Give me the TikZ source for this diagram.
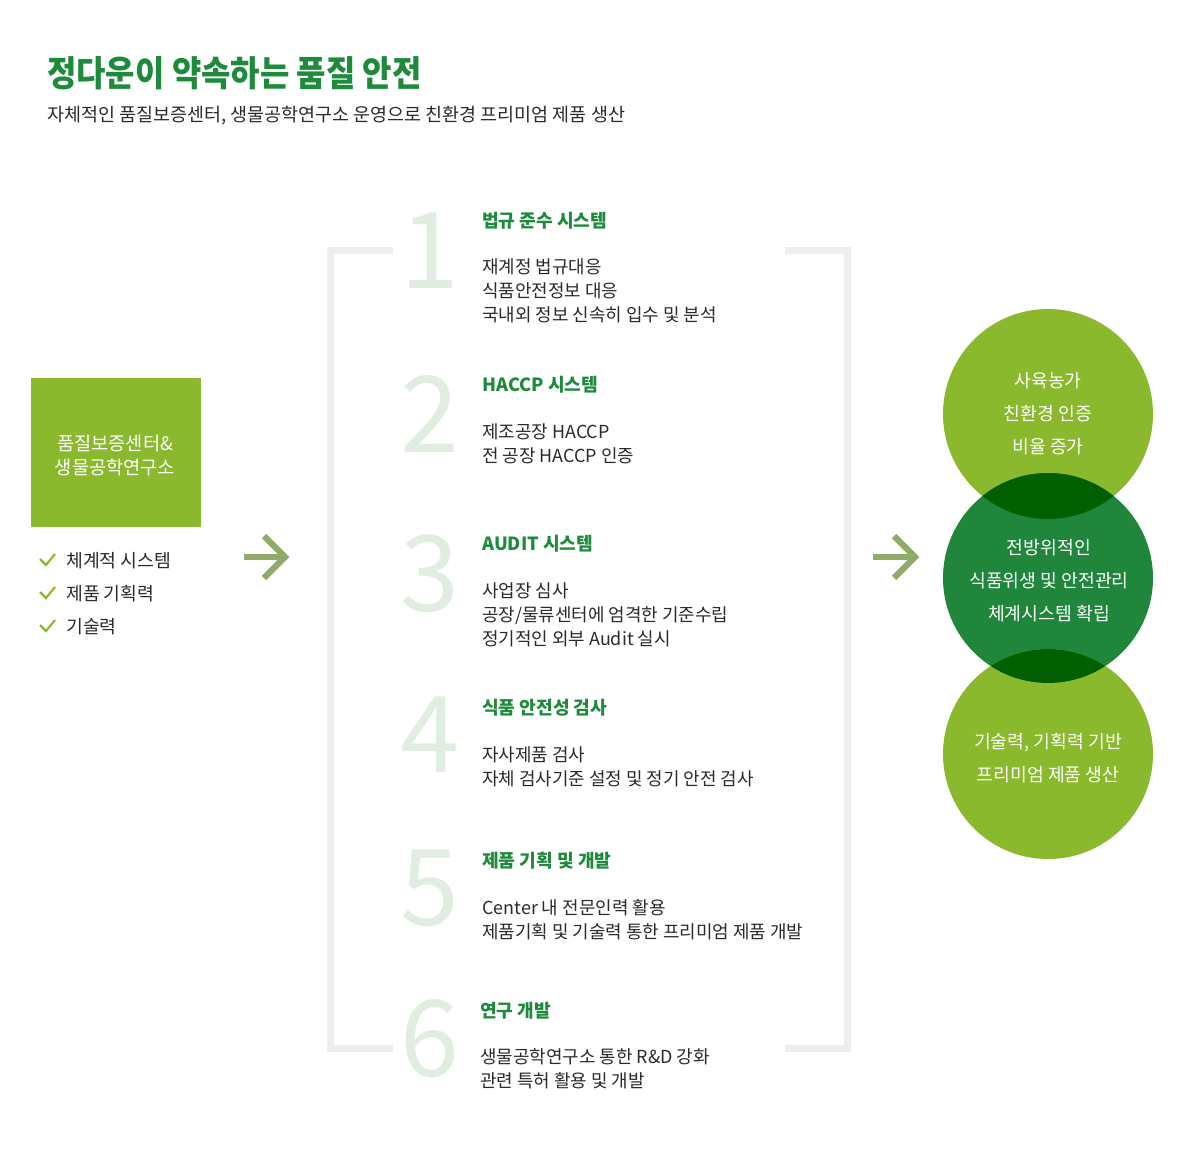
\documentclass[tikz,border=0pt]{standalone}
\usepackage{fontspec}
\setmainfont{Noto Sans CJK KR}
\newfontfamily\titlefont{Noto Sans CJK KR}[FakeStretch=0.9]
\newfontfamily\numfont{Noto Sans CJK KR}
\usetikzlibrary{calc}
\definecolor{lg}{HTML}{8AB92D}
\definecolor{dg}{HTML}{1F863B}
\definecolor{og}{HTML}{005F00}
\definecolor{tg}{HTML}{1E8A3C}
\definecolor{numc}{HTML}{E2EDE2}
\definecolor{brc}{HTML}{EEEEEE}
\definecolor{arc}{HTML}{91AA69}
\definecolor{txt}{HTML}{2A2A2A}
\tikzset{
  titletext/.style={anchor=base west, inner sep=0, text=tg, font=\titlefont\fontsize{26.6}{30}\selectfont\bfseries},
  subtext/.style={anchor=base west, inner sep=0, text=txt, font=\fontsize{13.85}{18}\selectfont},
  headtext/.style={anchor=base west, inner sep=0, text=tg, font=\fontsize{13.6}{18}\selectfont\bfseries},
  bodytext/.style={anchor=base west, inner sep=0, text=txt, align=left, font=\fontsize{13.45}{18}\selectfont},
  listtext/.style={anchor=base west, inner sep=0, text=txt, font=\fontsize{13.7}{18}\selectfont},
  numtext/.style={anchor=base, inner sep=0, text=numc, font=\numfont\fontsize{79.5}{80}\selectfont},
  circtext/.style={anchor=center, inner sep=0, text=white, align=center, font=\fontsize{13.7}{24.75}\selectfont},
  bigcirc/.style={circle, inner sep=0, minimum size=157.5pt},
  brline/.style={draw=brc, line width=5.25pt, line join=miter},
  arrline/.style={draw=arc, line width=4.6pt, line join=miter},
  checkline/.style={draw=lg, line width=1.6pt, line join=miter},
}
\begin{document}
\begin{tikzpicture}[x=0.75pt, y=-0.75pt]
\useasboundingbox[fill=white] (0,0) rectangle (1200,1163);
% title
\node[titletext] (title) at (47,87) {정다운이 약속하는 품질 안전};
\node[subtext] (subtitle) at (47,122) {자체적인 품질보증센터, 생물공학연구소 운영으로 친환경 프리미엄 제품 생산};
% left box
\node[fill=lg, minimum width=127.5pt, minimum height=111.75pt, inner sep=0] (box) at (116,452.5) {};
\node[anchor=center, inner sep=0, text=white, align=center, font=\fontsize{14}{18}\selectfont] (boxtext) at (115,456) {품질보증센터\&\\생물공학연구소};
% checks
\foreach \yy/\nm/\tx in {560/l1/체계적 시스템, 593/l2/제품 기획력, 626/l3/기술력}{
  \draw[checkline] (40,\yy-1) -- (46,\yy+5) -- (55,\yy-6);
  \node[listtext] (\nm) at (66,\yy+7) {\tx};
}
% arrows
\coordinate (a1s) at (244,557);
\coordinate (a1e) at (283,557);
\coordinate (a1t) at (285,557);
\draw[arrline] (a1s) -- (a1e);
\draw[arrline] ($(a1t)+(-21,-21)$) -- (a1t) -- ($(a1t)+(-21,21)$);
\coordinate (a2s) at (873,557);
\coordinate (a2e) at (913,557);
\coordinate (a2t) at (915,557);
\draw[arrline] (a2s) -- (a2e);
\draw[arrline] ($(a2t)+(-21,-21)$) -- (a2t) -- ($(a2t)+(-21,21)$);
% brackets
\draw[brline] (393,250) -- (330.5,250) -- (330.5,1048.5) -- (393,1048.5);
\draw[brline] (785,250) -- (847,250) -- (847,1048.5) -- (785,1048.5);
% numbers
\node[numtext] (n1) at (430,288) {1};
\node[numtext] (n2) at (430,452) {2};
\node[numtext] (n3) at (430,611) {3};
\node[numtext] (n4) at (430,772) {4};
\node[numtext] (n5) at (430,925) {5};
\node[numtext] (n6) at (430,1076) {6};
% sections (multi-line nodes: base = last line)
\node[headtext] (h1) at (482,227) {법규 준수 시스템};
\node[bodytext] (b1) at (482,321.8) {재계정 법규대응\\식품안전정보 대응\\국내외 정보 신속히 입수 및 분석};
\node[headtext] (h2) at (482,391) {HACCP 시스템};
\node[bodytext] (b2) at (482,462.8) {제조공장 HACCP\\전 공장 HACCP 인증};
\node[headtext] (h3) at (482,550) {AUDIT 시스템};
\node[bodytext] (b3) at (482,645.8) {사업장 심사\\공장/물류센터에 엄격한 기준수립\\정기적인 외부 Audit 실시};
\node[headtext] (h4) at (482,714) {식품 안전성 검사};
\node[bodytext] (b4) at (482,785.8) {자사제품 검사\\자체 검사기준 설정 및 정기 안전 검사};
\node[headtext] (h5) at (482,867) {제품 기획 및 개발};
\node[bodytext] (b5) at (482,938.8) {Center 내 전문인력 활용\\제품기획 및 기술력 통한 프리미엄 제품 개발};
\node[headtext] (h6) at (480,1017) {연구 개발};
\node[bodytext] (b6) at (480,1087.8) {생물공학연구소 통한 R\&D 강화\\관련 특허 활용 및 개발};
% circles
\node[bigcirc, fill=lg] (c1) at (1048,414) {};
\node[bigcirc, fill=dg] (c2) at (1048,578) {};
\node[bigcirc, fill=lg] (c3) at (1048,754) {};
\begin{scope}
  \clip (c2.center) circle (105);
  \fill[og] (c1.center) circle (105);
  \fill[og] (c3.center) circle (105);
\end{scope}
\node[circtext] (t1) at (1048,414) {사육농가\\친환경 인증\\비율 증가};
\node[circtext] (t2) at (1049,580.5) {전방위적인\\식품위생 및 안전관리\\체계시스템 확립};
\node[circtext] (t3) at (1048,758) {기술력, 기획력 기반\\프리미엄 제품 생산};
\end{tikzpicture}
\end{document}
